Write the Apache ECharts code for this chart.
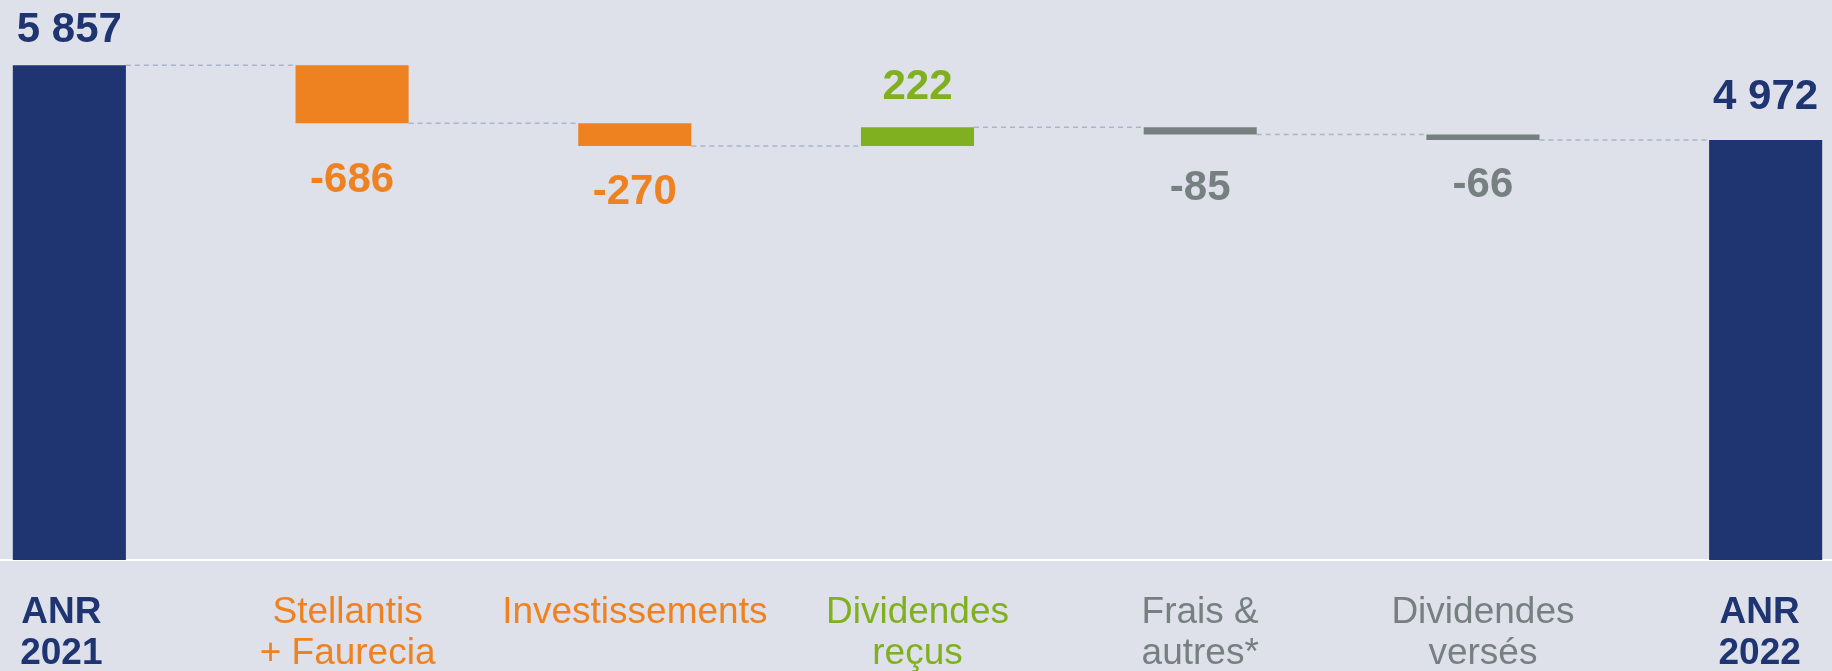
<!DOCTYPE html>
<html>
<head>
<meta charset="utf-8">
<script src="https://cdn.jsdelivr.net/npm/echarts@6/dist/echarts.min.js"></script>
<style>
html,body{margin:0;padding:0;background:#dee1ea;}
#c{width:1832px;height:671px;}
</style>
</head>
<body>
<div id="c"></div>
<script>
// ---- data ----
const categories = ['ANR\n2021', 'Stellantis\n+ Faurecia', 'Investissements', 'Dividendes\nreçus', 'Frais &\nautres*', 'Dividendes\nversés', 'ANR\n2022'];
const deltas = [5857, -686, -270, 222, -85, -66, 4972];
const isTotal = [true, false, false, false, false, false, true];
const colors = ['#1f3571', '#ef8220', '#ef8220', '#80b020', '#778080', '#778080', '#1f3571'];
const labelGap = [14, 36, 25, 19, 33, 24, 22];
const labelShift = [16, 9, 0, 0, 0, 0, 12];

// ---- derived waterfall pieces ----
const base = [], heights = [], levels = [];
let running = 0;
deltas.forEach((d, i) => {
  if (isTotal[i]) {
    base.push(0); heights.push(d); running = d;
  } else {
    const next = running + d;
    base.push(Math.min(running, next)); heights.push(Math.abs(d)); running = next;
  }
  levels.push(running);
});
const fmt = (v) => {
  const s = Math.abs(v).toString().replace(/\B(?=(\d{3})+(?!\d))/g, ' ');
  return (v < 0 ? '-' : '') + s;
};

const chart = echarts.init(document.getElementById('c'));
chart.setOption({
  backgroundColor: '#dee1ea',
  animation: false,
  grid: { left: -72, right: -75, top: 53.2, bottom: 111, outerBoundsMode: 'none', containLabel: false },
  xAxis: {
    type: 'category',
    data: categories.map((c, i) => ({
      value: c,
      textStyle: { color: colors[i], fontWeight: isTotal[i] ? 'bold' : 'normal', padding: [0, labelShift[i], 0, 0] }
    })),
    axisLine: { show: true, lineStyle: { color: '#ffffff', width: 2 } },
    axisTick: { show: false },
    axisLabel: { fontFamily: 'Liberation Sans, Arial, sans-serif', fontSize: 37, lineHeight: 41, margin: 32, interval: 0 }
  },
  yAxis: { type: 'value', min: 0, max: 6000, show: false, splitLine: { show: false } },
  series: [
    {
      type: 'bar', stack: 'w', barWidth: '40%',
      itemStyle: { color: 'transparent' },
      data: base, silent: true
    },
    {
      type: 'bar', stack: 'w', barWidth: '40%',
      data: heights.map((h, i) => ({
        value: h,
        itemStyle: { color: colors[i] },
        label: {
          show: true,
          position: (deltas[i] < 0) ? 'bottom' : 'top',
          distance: labelGap[i],
          color: colors[i],
          formatter: () => fmt(deltas[i])
        }
      })),
      label: { fontFamily: 'Liberation Sans, Arial, sans-serif', fontSize: 42, fontWeight: 'bold' }
    },
    {
      type: 'custom',
      data: levels.slice(0, levels.length - 1).map((l, i) => [i, l]),
      z: 1,
      renderItem: (params, api) => {
        const i = api.value(0), l = api.value(1);
        const bw = api.size([1, 0])[0] * 0.4;
        const p1 = api.coord([i, l]);
        const p2 = api.coord([i + 1, l]);
        return {
          type: 'line',
          shape: { x1: p1[0] + bw / 2, y1: p1[1], x2: p2[0] - bw / 2, y2: p2[1] },
          style: { stroke: '#a9b5ca', lineWidth: 1.5, lineDash: [5, 4] }
        };
      }
    }
  ]
});
</script>
</body>
</html>
